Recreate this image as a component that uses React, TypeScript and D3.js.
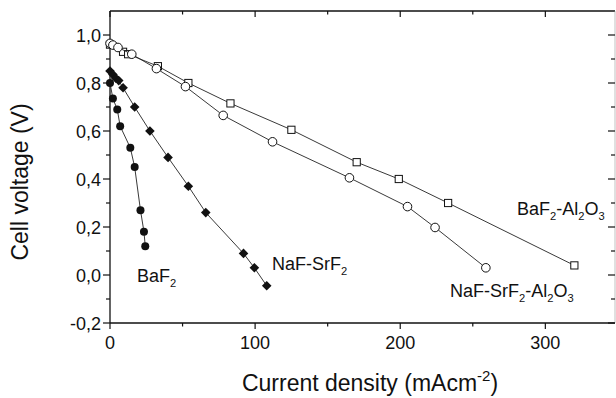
import React from 'react';
import * as d3 from 'd3';

// BaF2 (filled circles)
const bafX = [0, 2, 5, 7, 14, 17, 21, 23.4, 24.3];
const bafY = [0.8, 0.735, 0.69, 0.62, 0.53, 0.45, 0.27, 0.18, 0.12];

// NaF-SrF2 (filled diamonds)
const nafX = [0, 2, 4, 6, 9, 17, 27.5, 40, 54, 66, 92, 99.5, 108];
const nafY = [0.85, 0.835, 0.82, 0.81, 0.78, 0.7, 0.6, 0.49, 0.37, 0.26, 0.09, 0.03, -0.045];

// NaF-SrF2-Al2O3 (open circles)
const nafAlX = [0, 2, 5.5, 15, 32, 52, 78, 112, 165, 205, 224, 259];
const nafAlY = [0.965, 0.958, 0.948, 0.92, 0.86, 0.785, 0.665, 0.555, 0.405, 0.285, 0.198, 0.03];

// BaF2-Al2O3 (open squares)
const bafAlX = [0, 9, 12.5, 33, 54, 83, 125, 170, 199, 233, 320];
const bafAlY = [0.96, 0.93, 0.92, 0.87, 0.8, 0.715, 0.605, 0.47, 0.4, 0.3, 0.04];

const xMajor = [0, 100, 200, 300];
const xMinor = [50, 150, 250];
const yMajor = [-0.2, 0, 0.2, 0.4, 0.6, 0.8, 1.0];
const yMinor = [-0.1, 0.1, 0.3, 0.5, 0.7, 0.9];

const W = 616;
const H = 398;
const left = 110, right = 615, top = 11, bottom = 323;
const font = "Arial, 'Liberation Sans', sans-serif";
const ink = '#111';

const x = d3.scaleLinear().domain([0, 348]).range([left, right]);
const y = d3.scaleLinear().domain([-0.2, 1.1]).range([bottom, top]);

const pts = (xs: number[], ys: number[]) => xs.map((v, i) => [v, ys[i]] as [number, number]);
const line = d3.line<[number, number]>().x(d => x(d[0])).y(d => y(d[1]));

const fmt = (v: number) => d3.format('.1f')(v).replace('.', ',').replace('−', '-');

const Label = ({ px, py, parts, size = 18 }: { px: number; py: number; parts: [string, boolean][]; size?: number }) => (
  <text x={px} y={py} fontFamily={font} fontSize={size} fill={ink}>
    {parts.map(([t, sub], i) =>
      sub ? (
        <tspan key={i} fontSize={size * 0.62} dy={5}>{t}</tspan>
      ) : (
        <tspan key={i} dy={i > 0 && parts[i - 1][1] ? -5 : 0}>{t}</tspan>
      )
    )}
  </text>
);

export default function App() {
  const series = [
    { data: pts(bafX, bafY), kind: 'dot' },
    { data: pts(nafX, nafY), kind: 'diamond' },
    { data: pts(bafAlX, bafAlY), kind: 'square' },
    { data: pts(nafAlX, nafAlY), kind: 'ring' },
  ];

  const marker = (kind: string, cx: number, cy: number, k: number) => {
    if (kind === 'dot') return <circle key={k} cx={cx} cy={cy} r={4} fill={ink} />;
    if (kind === 'ring') return <circle key={k} cx={cx} cy={cy} r={4.3} fill="#fff" stroke={ink} strokeWidth={1} />;
    if (kind === 'square') return <rect key={k} x={cx - 3.6} y={cy - 3.6} width={7.2} height={7.2} fill="#fff" stroke={ink} strokeWidth={1} />;
    const s = 4.8;
    return <path key={k} d={`M${cx},${cy - s}L${cx + s},${cy}L${cx},${cy + s}L${cx - s},${cy}Z`} fill={ink} />;
  };

  return (
    <>
      <style>{`body{margin:0}`}</style>
      <svg width={W} height={H} style={{ display: 'block', background: '#fff' }}>
        {/* frame */}
        <g stroke={ink} strokeWidth={1.3} fill="none">
          <line x1={left} y1={top} x2={left} y2={bottom} />
          <line x1={left} y1={bottom} x2={right} y2={bottom} />
          <line x1={left} y1={top} x2={right} y2={top} />
          <line x1={right} y1={top} x2={right} y2={bottom} strokeWidth={0.6} stroke="#999" />
        </g>

        {/* ticks */}
        <g stroke={ink} strokeWidth={1.2}>
          {xMajor.map(v => (
            <g key={'xM' + v}>
              <line x1={x(v)} x2={x(v)} y1={bottom} y2={bottom + 6} />
              <line x1={x(v)} x2={x(v)} y1={top} y2={top + 6} />
            </g>
          ))}
          {xMinor.map(v => (
            <g key={'xm' + v}>
              <line x1={x(v)} x2={x(v)} y1={bottom} y2={bottom + 3.5} />
              <line x1={x(v)} x2={x(v)} y1={top} y2={top + 3.5} />
            </g>
          ))}
          {yMajor.map(v => (
            <g key={'yM' + v}>
              <line x1={left - 7} x2={left} y1={y(v)} y2={y(v)} />
              <line x1={right - 7} x2={right} y1={y(v)} y2={y(v)} />
            </g>
          ))}
          {yMinor.map(v => (
            <g key={'ym' + v}>
              <line x1={left - 4} x2={left} y1={y(v)} y2={y(v)} />
              <line x1={right - 4} x2={right} y1={y(v)} y2={y(v)} />
            </g>
          ))}
        </g>

        {/* tick labels */}
        <g fontFamily={font} fontSize={18} fill={ink}>
          {yMajor.map(v => (
            <text key={'yl' + v} x={left - 9} y={y(v) + 6.5} textAnchor="end">{fmt(v)}</text>
          ))}
          {xMajor.map(v => (
            <text key={'xl' + v} x={x(v)} y={bottom + 26} textAnchor="middle">{v}</text>
          ))}
        </g>

        {/* series */}
        {series.map((s, i) => (
          <g key={i}>
            <path d={line(s.data) || ''} fill="none" stroke="#222" strokeWidth={0.9} />
            {s.data.map((d, j) => marker(s.kind, x(d[0]), y(d[1]), j))}
          </g>
        ))}

        {/* series labels */}
        <Label px={137} py={282} parts={[['BaF', false], ['2', true]]} />
        <Label px={272} py={270} parts={[['NaF-SrF', false], ['2', true]]} />
        <Label px={517} py={215} parts={[['BaF', false], ['2', true], ['-Al', false], ['2', true], ['O', false], ['3', true]]} />
        <Label px={450} py={297} parts={[['NaF-SrF', false], ['2', true], ['-Al', false], ['2', true], ['O', false], ['3', true]]} />

        {/* axis titles */}
        <text x={370} y={391} textAnchor="middle" fontFamily={font} fontSize={23} fill={ink}>
          Current density (mAcm<tspan dy={-10} fontSize={15}>-2</tspan><tspan dy={10}>)</tspan>
        </text>
        <text transform={`translate(28,${182}) rotate(-90)`} textAnchor="middle" fontFamily={font} fontSize={23} fill={ink}>
          Cell voltage (V)
        </text>
      </svg>
    </>
  );
}
